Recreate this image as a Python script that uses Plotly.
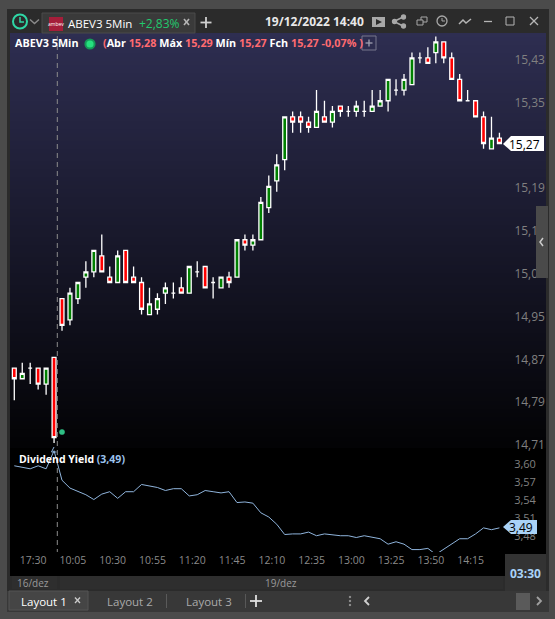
import plotly.graph_objects as go

W, H = 555, 619

# 5 min candles, 16/dez closing then 19/dez
times = ['17:20', '17:25', '17:30', '17:35', '17:40', '17:45',
         '10:00', '10:05', '10:10', '10:15', '10:20', '10:25', '10:30', '10:35', '10:40', '10:45',
         '10:50', '10:55', '11:00', '11:05', '11:10', '11:15', '11:20', '11:25', '11:30', '11:35',
         '11:40', '11:45', '11:50', '11:55', '12:00', '12:05', '12:10', '12:15', '12:20', '12:25',
         '12:30', '12:35', '12:40', '12:45', '12:50', '12:55', '13:00', '13:05', '13:10', '13:15',
         '13:20', '13:25', '13:30', '13:35', '13:40', '13:45', '13:50', '13:55', '14:00', '14:05',
         '14:10', '14:15', '14:20', '14:25', '14:30', '14:35']
opens = [14.85, 14.83, 14.85, 14.85, 14.82, 14.87, 14.98, 14.94, 14.98, 15.02, 15.03, 15.06, 15.02, 15.01, 15.07, 15.02,
         15.01, 14.95, 14.96, 14.99, 14.99, 15.00, 14.99, 15.03, 15.04, 15.01, 15.00, 15.02, 15.02, 15.09, 15.08, 15.09,
         15.15, 15.20, 15.24, 15.32, 15.32, 15.31, 15.30, 15.32, 15.31, 15.34, 15.33, 15.33, 15.33, 15.33, 15.34, 15.35,
         15.37, 15.37, 15.38, 15.43, 15.43, 15.44, 15.46, 15.43, 15.39, 15.35, 15.35, 15.32, 15.26, 15.28]
highs = [14.85, 14.86, 14.86, 14.85, 14.85, 14.87, 14.98, 15.00, 15.01, 15.05, 15.07, 15.10, 15.04, 15.07, 15.07, 15.04,
         15.02, 15.00, 14.99, 15.01, 15.01, 15.02, 15.04, 15.05, 15.04, 15.02, 15.02, 15.03, 15.09, 15.10, 15.10, 15.17,
         15.21, 15.25, 15.32, 15.33, 15.33, 15.32, 15.37, 15.35, 15.34, 15.34, 15.34, 15.35, 15.35, 15.37, 15.37, 15.39,
         15.39, 15.40, 15.44, 15.44, 15.45, 15.47, 15.46, 15.44, 15.40, 15.37, 15.35, 15.33, 15.32, 15.29]
lows = [14.79, 14.83, 14.82, 14.81, 14.80, 14.71, 14.92, 14.93, 14.97, 15.00, 15.02, 15.03, 15.01, 15.01, 15.01, 15.01,
        14.95, 14.95, 14.95, 14.97, 14.98, 14.99, 14.99, 15.02, 15.00, 14.98, 15.00, 15.00, 15.02, 15.07, 15.07, 15.09,
        15.14, 15.18, 15.22, 15.29, 15.29, 15.29, 15.30, 15.31, 15.30, 15.32, 15.32, 15.32, 15.32, 15.33, 15.34, 15.33,
        15.36, 15.36, 15.38, 15.42, 15.42, 15.42, 15.42, 15.39, 15.35, 15.35, 15.32, 15.26, 15.26, 15.27]
closes = [14.83, 14.84, 14.85, 14.82, 14.85, 14.72, 14.93, 14.99, 15.01, 15.03, 15.07, 15.03, 15.01, 15.06, 15.01, 15.01,
          14.96, 14.97, 14.98, 15.00, 14.99, 14.99, 15.04, 15.03, 15.00, 15.01, 15.02, 15.01, 15.09, 15.08, 15.09, 15.16,
          15.19, 15.23, 15.32, 15.31, 15.31, 15.30, 15.33, 15.31, 15.33, 15.33, 15.33, 15.34, 15.33, 15.34, 15.35, 15.39,
          15.37, 15.39, 15.43, 15.43, 15.42, 15.46, 15.43, 15.39, 15.35, 15.35, 15.32, 15.27, 15.28, 15.27]
dividend_yield = [3.597, 3.594, 3.592, 3.597, 3.592, 3.622, 3.573, 3.560, 3.554, 3.549, 3.541, 3.550, 3.554, 3.543, 3.554, 3.554,
                  3.566, 3.564, 3.561, 3.556, 3.559, 3.559, 3.547, 3.549, 3.556, 3.554, 3.552, 3.554, 3.536, 3.537, 3.535, 3.519,
                  3.512, 3.500, 3.483, 3.484, 3.484, 3.487, 3.481, 3.484, 3.482, 3.481, 3.481, 3.478, 3.481, 3.479, 3.476, 3.467,
                  3.471, 3.467, 3.458, 3.458, 3.460, 3.450, 3.459, 3.468, 3.476, 3.476, 3.484, 3.494, 3.491, 3.494]

time_ticks = ['17:30', '10:05', '10:30', '10:55', '11:20', '11:45', '12:10', '12:35', '13:00', '13:25', '13:50', '14:15']
price_ticks = [15.43, 15.35, 15.19, 15.11, 15.03, 14.95, 14.87, 14.79, 14.71]  # 15,27 sits under the tag
yield_ticks = [3.60, 3.57, 3.54, 3.51, 3.48]


def px(x):
    return x / W


def py(y):
    return 1 - y / H


shapes = []
annotations = []


def rect(x0, y0, x1, y1, color, line=None, layer='below'):
    shapes.append(dict(type='rect', xref='paper', yref='paper', x0=px(x0), x1=px(x1), y0=py(y0), y1=py(y1),
                       fillcolor=color, line=dict(color=line or color, width=1 if line else 0), layer=layer))


def poly(pts, color=None, line=None, width=1.3, close=False, layer='above', dash=None):
    d = 'M' + ' L'.join(f'{px(a):.5f},{py(b):.5f}' for a, b in pts) + (' Z' if close else '')
    shapes.append(dict(type='path', xref='paper', yref='paper', path=d, fillcolor=color,
                       line=dict(color=line or color, width=width if line else 0, dash=dash), layer=layer))


def ring(cx, cy, r, line, width=1.3, fill=None, layer='above'):
    shapes.append(dict(type='circle', xref='paper', yref='paper', x0=px(cx - r), x1=px(cx + r), y0=py(cy + r), y1=py(cy - r),
                       fillcolor=fill, line=dict(color=line, width=width), layer=layer))


def text(x, y, s, size=12, color='#ffffff', anchor='left', family='Open Sans'):
    annotations.append(dict(xref='paper', yref='paper', x=px(x), y=py(y), text=s, showarrow=False,
                            xanchor=anchor, yanchor='middle', borderpad=0, font=dict(size=size, color=color, family=family)))


# window frame
rect(7, 9, 549, 612, '#2b2b2b')

# chart background, fades from navy to black
steps = 104
for i in range(steps):
    y0 = 33 + i * 4
    k = max(0, 1 - i / (steps - 1))
    rect(10, y0, 546, y0 + 4, f'rgb({int(3 + 43 * k)},{int(3 + 43 * k)},{int(5 + 76 * k)})')
rect(10, 448, 546, 576, '#000000')

# bottom strips
rect(12, 576, 57, 589, '#2e2e2e')
rect(60, 576, 503, 589, '#2e2e2e')
rect(505, 554, 546, 591, '#333333')
rect(7, 591, 549, 612, '#383838')
rect(9, 591, 88, 610, '#454545', line='#555555')

# tab
rect(42, 13, 195, 33, '#3a3a3a', line='#4a4a4a')
rect(49, 17, 63, 31, '#a51e3a')

# toolbar icons
ring(20, 21.5, 7, '#2fd6a5', 2)
poly([(20, 17), (20, 22), (24, 22)], line='#2fd6a5', width=1.5)
poly([(30, 19.5), (34.5, 23.5), (39, 19.5)], line='#8a8a8a', width=1.5)
poly([(184, 19), (189, 25)], line='#b5b5b5', width=1.6)
poly([(189, 19), (184, 25)], line='#b5b5b5', width=1.6)
poly([(206, 17), (206, 28)], line='#d0d0d0', width=1.8)
poly([(200.5, 22.5), (211.5, 22.5)], line='#d0d0d0', width=1.8)
poly([(372, 17), (385, 17), (385, 27), (372, 27)], color='#a8a8a8', close=True)
poly([(376, 19), (376, 25), (382, 22)], color='#2b2b2b', close=True)
poly([(403, 17), (394, 21.5), (403, 26)], line='#a8a8a8', width=1.6)
ring(403.5, 17, 2, '#a8a8a8', fill='#a8a8a8')
ring(394.5, 21.5, 2, '#a8a8a8', fill='#a8a8a8')
ring(403.5, 26, 2, '#a8a8a8', fill='#a8a8a8')
rect(421, 17, 427, 22, '#2b2b2b', line='#a8a8a8', layer='above')
rect(417, 20, 423, 25, '#2b2b2b', line='#a8a8a8', layer='above')
ring(442, 21, 5, '#a8a8a8')
poly([(442, 18), (442, 21), (445, 21)], line='#a8a8a8', width=1)
poly([(459, 24), (463, 20), (466, 23), (471, 19)], line='#b5b5b5', width=1.5)
poly([(484, 21.5), (492, 21.5)], line='#b5b5b5')
rect(506, 17, 514, 25, '#2b2b2b', line='#b5b5b5', layer='above')
poly([(530, 17), (538, 25)], line='#b5b5b5')
poly([(538, 17), (530, 25)], line='#b5b5b5')

# side handle
rect(536, 206, 548, 278, '#4a4a4a', layer='above')
poly([(543, 238), (540, 242), (543, 246)], line='#cccccc', width=1.5)

# cursor line and markers
poly([(57.3, 36), (57.3, 552)], line='#8c8c8c', width=1, dash='5px,4px')
ring(90, 44, 4.6, '#159a58', 2, fill='#26e07f')
ring(62, 432, 2.6, '#2fbf85', 0.5, fill='#2fbf85')
poly([(54, 447), (51.5, 452), (56.5, 452)], line='#8fb4dc', width=1)

# header plus button
shapes.append(dict(type='rect', xref='paper', yref='paper', x0=px(362), x1=px(376), y0=py(50), y1=py(36),
                   line=dict(color='#77778c', width=1), layer='above'))
poly([(369, 39.5), (369, 46.5)], line='#a0a0b0')
poly([(365.5, 43), (372.5, 43)], line='#a0a0b0')

# price tags
poly([(503, 144), (511, 136), (544, 136), (544, 151), (511, 151)], color='#ffffff', close=True)
poly([(503, 527), (511, 520), (537, 520), (537, 534), (511, 534)], color='#a9d2f7', close=True)

# bottom bar icons
poly([(256, 595), (256, 607)], line='#e0e0e0', width=1.8)
poly([(250, 601), (262, 601)], line='#e0e0e0', width=1.8)
poly([(166.5, 594), (166.5, 608)], line='#5a5a5a', width=1)
poly([(245.5, 594), (245.5, 608)], line='#5a5a5a', width=1)
poly([(75, 597.5), (80, 603)], line='#cccccc', width=1.3)
poly([(80, 597.5), (75, 603)], line='#cccccc', width=1.3)
poly([(369, 597), (365, 601), (369, 605)], line='#d0d0d0', width=1.8)
poly([(537, 597), (541, 601), (537, 605)], line='#a0a0a0', width=1.8)
for yy in (597, 601, 605):
    ring(350, yy, 0.8, '#b0b0b0', 0.5, fill='#b0b0b0')
rect(516, 593, 530, 610, '#5a5a5a')

# texts
text(56, 24, 'ambev', 5, '#ffffff', 'center')
text(67, 24, 'ABEV3 5Min', 11.5)
text(138, 24, '+2,83%', 12, '#22c96e')
text(264, 22, '<b>19/12/2022 14:40</b>', 12, '#e8e8e8')
text(14, 43, '<b>ABEV3 5Min</b>', 10.8)
red = '#ff6b70'
header = ''.join(f'<b>{lab} <span style="color:{red}">{val}</span> </b>' for lab, val in
                 [('Abr', '15,28'), ('Máx', '15,29'), ('Mín', '15,27'), ('Fch', '15,27 -0,07% )')])
text(102, 43, f'<b><span style="color:{red}">(</span></b>' + header, 10.8)
text(18, 459, '<b>Dividend Yield <span style="color:#9cc3ee">(3,49)</span></b>', 10.5)
text(541, 144, '15,27', 12, '#000000', 'right')
text(534, 527, '3,49', 12, '#000000', 'right')
text(525, 573, '<b>03:30</b>', 12, '#a9d2f7', 'center')
text(33, 582.5, '16/dez', 10, '#9a9a9a', 'center')
text(281, 582.5, '19/dez', 10, '#9a9a9a', 'center')
text(20, 601, 'Layout 1', 11.5, '#ffffff')
text(106, 601, 'Layout 2', 11.5, '#aaaaaa')
text(185, 601, 'Layout 3', 11.5, '#aaaaaa')

fig = go.Figure()
fig.add_trace(go.Candlestick(
    x=times, open=opens, high=highs, low=lows, close=closes,
    increasing=dict(fillcolor='#008000', line=dict(color='#ffffff', width=1.3)),
    decreasing=dict(fillcolor='#ff0000', line=dict(color='#ffffff', width=1.3)),
    whiskerwidth=0, xaxis='x', yaxis='y',
))
fig.add_trace(go.Scatter(
    x=times, y=dividend_yield, mode='lines', line=dict(color='#8fb4dc', width=1),
    xaxis='x2', yaxis='y2',
))

x_range = [-0.54, 61.7]
fig.update_layout(
    width=W, height=H,
    margin=dict(l=0, r=0, t=0, b=0),
    paper_bgcolor='#4b4b4b',
    plot_bgcolor='rgba(0,0,0,0)',
    showlegend=False,
    boxgap=0.3,
    font=dict(family='Open Sans', size=12, color='#8a8a8a'),
    shapes=shapes,
    annotations=annotations,
    xaxis=dict(domain=[px(10), px(505)], anchor='y', type='category', range=x_range, showgrid=False, zeroline=False,
               automargin=False, showticklabels=False, ticks='', rangeslider=dict(visible=False),
               categoryorder='array', categoryarray=times),
    yaxis=dict(domain=[py(448), py(33)], anchor='x', side='right', range=[14.7005, 15.4767], showgrid=False, zeroline=False,
               automargin=False, tickmode='array', tickvals=price_ticks,
               ticktext=[f'{v:.2f}'.replace('.', ',') for v in price_ticks],
               ticks='outside', ticklen=6, tickcolor='rgba(0,0,0,0)', ticklabelshift=2, tickfont=dict(size=12, color='#808080')),
    xaxis2=dict(domain=[px(10), px(505)], anchor='y2', type='category', range=x_range, showgrid=False, zeroline=False,
                automargin=False, tickmode='array', tickvals=time_ticks, ticktext=time_ticks, ticks='',
                ticklabelshift=3, tickfont=dict(size=10.5, color='#8a8a8a'),
                categoryorder='array', categoryarray=times),
    yaxis2=dict(domain=[py(552), py(448)], anchor='x2', side='right', range=[3.454, 3.6265], showgrid=False, zeroline=False,
                automargin=False, tickmode='array', tickvals=yield_ticks,
                ticktext=[f'{v:.2f}'.replace('.', ',') for v in yield_ticks],
                ticks='outside', ticklen=6, tickcolor='rgba(0,0,0,0)', tickfont=dict(size=11, color='#808080')),
)

fig.write_html("out.html", config=dict(displayModeBar=False),
               post_script="document.body.style.margin='0';document.body.style.overflow='hidden';")
